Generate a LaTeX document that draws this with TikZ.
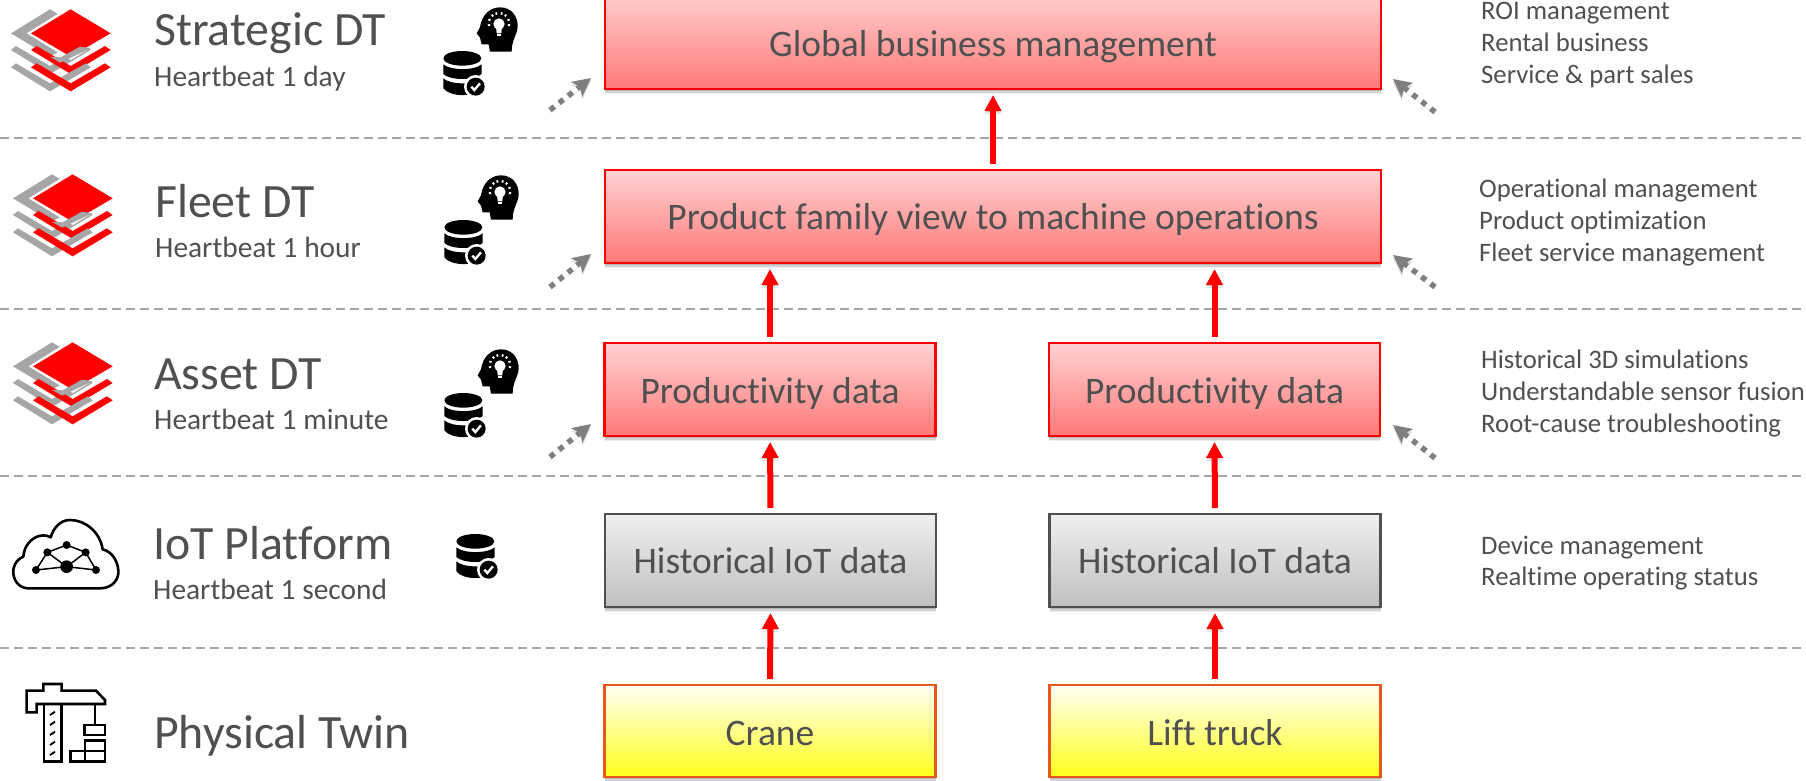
\documentclass[tikz,border=0pt]{standalone}
\usepackage{fontspec}
\setmainfont[Ligatures=NoCommon]{Carlito}
\usetikzlibrary{arrows.meta,shadows,calc}
\definecolor{txt}{HTML}{505050}
\definecolor{redtop}{HTML}{FFD2D2}
\definecolor{redbot}{HTML}{FF7878}
\definecolor{dash}{HTML}{A6A6A6}
\definecolor{dotgray}{HTML}{7F7F7F}
\definecolor{layergray}{HTML}{A6A6A6}
\definecolor{orangeline}{HTML}{E8581C}
\tikzset{
  softbox/.style={drop shadow={shadow xshift=0pt,shadow yshift=-5pt,opacity=.07,fill=black},
                  drop shadow={shadow xshift=0pt,shadow yshift=-3.5pt,opacity=.10,fill=black},
                  drop shadow={shadow xshift=0pt,shadow yshift=-2pt,opacity=.14,fill=black}},
  boxbase/.style={softbox,draw,line width=2.2pt,inner sep=0pt,outer sep=0pt,text=txt,
        font=\fontsize{37.5}{37.5}\selectfont,text height=25pt,text depth=0pt,align=center},
  redbox/.style={boxbase,draw=red,top color=redtop,bottom color=redbot},
  graybox/.style={boxbase,draw=txt,top color=black!6,bottom color=black!25},
  yellowbox/.style={boxbase,draw=orangeline,top color=yellow!3,middle color=yellow!35,bottom color=yellow!90,text height=28pt},
  title/.style={anchor=base west,inner sep=0pt,text=txt,font=\fontsize{47.8}{47.8}\selectfont},
  subtitle/.style={anchor=base west,inner sep=0pt,text=txt,font=\fontsize{29.4}{29.4}\selectfont},
  note/.style={anchor=base west,inner sep=0pt,text=txt,font=\fontsize{26.7}{26.7}\selectfont},
  levelline/.style={draw=dash,line width=2pt,dash pattern=on 9pt off 5pt},
  flow/.style={draw=red,line width=6pt,-{Triangle[length=16pt,width=16pt]},shorten <=6pt,shorten >=6pt,
     preaction={draw=black,opacity=.10,transform canvas={yshift=-3pt}}},
  hint/.style={draw=dotgray,line width=5.5pt,dash pattern=on 5.5pt off 6pt,
     -{Stealth[length=18pt,width=18pt,inset=4pt]},
     preaction={draw=black,opacity=.12,transform canvas={yshift=-3pt}}},
}
% all icons are drawn in 3x crop units: x=1/3, y=-1/3
\newcommand{\stackicon}[2]{%
 \begin{scope}[shift={(#1,#2)},x=.3333pt,y=-.3333pt]
  \fill[layergray] (33,100)--(150,28)--(272,100)--(150,170)--cycle;
  \foreach \d in {0,52}{
   \fill[layergray] (33,150+\d)--(48,138+\d)--(150,198+\d)--(258,138+\d)--(272,150+\d)--(150,222+\d)--cycle;
   \fill[red] (93,150+\d)--(110,138+\d)--(212,198+\d)--(315,138+\d)--(332,150+\d)--(212,222+\d)--cycle;
  }
  \fill[white] (80,100)--(212,18)--(345,100)--(212,180)--cycle;
  \fill[red] (93,100)--(212,28)--(332,100)--(212,170)--cycle;
  \fill[layergray] (150,170)--(180,188)--(272,145)--(240,140)--(182,172)--cycle;
 \end{scope}}
\newcommand{\dbicon}[2]{%
 \begin{scope}[shift={(#1,#2)},x=.3333pt,y=-.3333pt]
  \fill[black] (97,175) ellipse [x radius=57,y radius=22];
  \fill[black] (40,193) .. controls (60,212) and (135,212) .. (155,193) -- (155,222) .. controls (135,242) and (60,242) .. (40,222) -- cycle;
  \fill[black] (40,235) .. controls (60,255) and (135,255) .. (155,235) -- (155,265) .. controls (135,292) and (60,292) .. (40,265) -- cycle;
  \fill[white] (137,260) circle [radius=35];
  \fill[black] (137,260) circle [radius=27];
  \draw[white,line width=2.4pt] (124,260)--(133,270)--(150,250);
 \end{scope}}
\newcommand{\headicon}[2]{%
 \begin{scope}[shift={(#1,#2)},x=.3333pt,y=-.3333pt]
  \fill[black] (140,100) -- (150,82) .. controls (155,45) and (180,22) .. (210,22)
     .. controls (245,22) and (264,50) .. (263,80) .. controls (262,105) and (245,118) .. (245,155)
     -- (180,155) -- (176,133) -- (155,133) -- (150,113) -- cycle;
  \fill[white] (207,72) circle [radius=17];
  \fill[white] (198,80) -- (216,80) -- (214,100) -- (200,100) -- cycle;
  \draw[white,line width=1.2pt] (200,105)--(214,105);
  \foreach \a in {10,-20,-50,-75,-105,-130,-160,-190}
    \draw[white,line width=1.8pt] ($(207,70)+(\a:27)$)--($(207,70)+(\a:34)$);
 \end{scope}}
\begin{document}
\begin{tikzpicture}[x=1pt,y=-1pt]
\useasboundingbox (0,0) rectangle (1806,780);
\fill[white] (0,0) rectangle (1806,780);

% level separators
\foreach \n/\y in {a/138,b/309,c/476,d/648}{
  \coordinate (l\n) at (0,\y);
  \coordinate (r\n) at (1806,\y);
  \draw[levelline] (l\n) -- (r\n);
}

% boxes
\node[redbox,minimum width=776pt,minimum height=99pt,text height=33.5pt] (global) at (993,39.5) {Global business management};
\node[redbox,minimum width=776pt,minimum height=93pt] (fleet) at (993,216.5) {Product family view to machine operations};
\node[redbox,minimum width=331pt,minimum height=93pt,text height=27pt] (prodL) at (770,389.5) {Productivity data};
\node[redbox,minimum width=331pt,minimum height=93pt,text height=27pt] (prodR) at (1214.5,389.5) {Productivity data};
\node[graybox,minimum width=331pt,minimum height=93pt] (histL) at (770.5,560.5) {Historical IoT data};
\node[graybox,minimum width=331pt,minimum height=93pt] (histR) at (1215,560.5) {Historical IoT data};
\node[yellowbox,minimum width=331pt,minimum height=92pt] (crane) at (770,731) {Crane};
\node[yellowbox,minimum width=331pt,minimum height=92pt] (truck) at (1215,731) {Lift truck};

% red flows
\draw[flow] (fleet.north) -- (global.south);
\draw[flow] (prodL.north) -- (fleet.south -| prodL.north);
\draw[flow] (prodR.north) -- (fleet.south -| prodR.north);
\draw[flow] (histL.north) -- (prodL.south);
\draw[flow] (histR.north) -- (prodR.south);
\draw[flow] (crane.north) -- (histL.south);
\draw[flow] (truck.north) -- (histR.south);

% grey dotted hints
\foreach \n/\ya/\yb/\yc/\yd in {1/110/78/112/79,2/287/254/287/255,3/457/424/458/425}{
  \coordinate (hla\n) at (550,\ya);
  \coordinate (hlb\n) at (591,\yb);
  \coordinate (hra\n) at (1435,\yc);
  \coordinate (hrb\n) at (1393,\yd);
  \draw[hint] (hla\n) -- (hlb\n);
  \draw[hint] (hra\n) -- (hrb\n);
}

% left labels
\node[title] (t1) at (154,45) {Strategic DT};
\node[subtitle] (s1) at (154,86) {Heartbeat 1 day};
\node[title] (t2) at (155,217) {Fleet DT};
\node[subtitle] (s2) at (155,257) {Heartbeat 1 hour};
\node[title] (t3) at (154,389) {Asset DT};
\node[subtitle] (s3) at (154,429) {Heartbeat 1 minute};
\node[title] (t4) at (153,559) {IoT Platform};
\node[subtitle] (s4) at (153,599) {Heartbeat 1 second};
\node[title] (t5) at (154,748) {Physical Twin};

% right notes
\node[note] (n11) at (1481,19) {ROI management};
\node[note] (n12) at (1481,51) {Rental business};
\node[note] (n13) at (1481,83) {Service \& part sales};
\node[note] (n21) at (1479,197) {Operational management};
\node[note] (n22) at (1479,229) {Product optimization};
\node[note] (n23) at (1479,261) {Fleet service management};
\node[note] (n31) at (1481,368) {Historical 3D simulations};
\node[note] (n32) at (1481,400) {Understandable sensor fusion};
\node[note] (n33) at (1481,432) {Root-cause troubleshooting};
\node[note] (n41) at (1481,554) {Device management};
\node[note] (n42) at (1481,585) {Realtime operating status};

% icons
\stackicon{0}{0}
\stackicon{2}{165}
\stackicon{2}{333}
\headicon{430}{0}
\dbicon{430}{0}
\headicon{431}{168}
\dbicon{431}{169}
\headicon{431}{342}
\dbicon{431}{342}
\dbicon{443}{483}

% cloud
\begin{scope}[shift={(0,510)},x=.3333pt,y=-.3333pt]
  \draw[black,line width=2.6pt,line join=round]
    (85,235) -- (300,235) .. controls (340,235) and (358,205) .. (355,180)
    .. controls (352,150) and (335,125) .. (308,118) .. controls (300,65) and (255,30) .. (210,30)
    .. controls (180,30) and (160,55) .. (152,82) .. controls (125,65) and (75,85) .. (70,140)
    .. controls (45,150) and (38,175) .. (40,190) .. controls (42,215) and (60,235) .. (85,235) -- cycle;
  \draw[black,line width=1.5pt] (108,180)--(200,170)--(288,180)--(257,127)--(200,105)--(142,127)--(108,180);
  \draw[black,line width=1.5pt] (142,127)--(200,170)--(257,127);
  \foreach \p in {(108,180),(142,127),(200,105),(257,127),(288,180)}
    \fill[black] \p circle [radius=12];
  \fill[black] (200,170) circle [radius=19];
\end{scope}

% crane
\begin{scope}[shift={(10,670)},x=.3333pt,y=-.3333pt]
  \draw[black,line width=2.6pt,miter limit=4]
    (50,62)--(100,62)--(100,42)--(155,42)--(155,62)--(258,62)--(285,90)--(285,102)--(80,102)--(80,127)--(50,127)--cycle;
  \draw[black,line width=2.6pt] (102,102) rectangle (155,275);
  \foreach \y in {130,160,190,220,250}
    \draw[black,line width=1.8pt] (120,\y+5)--(135,\y-5);
  \draw[black,line width=2.2pt] (255,102)--(255,165);
  \draw[black,line width=2.6pt] (223,165) rectangle (285,195);
  \draw[black,line width=2.6pt] (225,243)--(225,212)--(285,212)--(285,275)--(182,275)--(182,243)--cycle;
  \draw[black,line width=2.2pt] (225,243)--(285,243) (225,243)--(225,275);
\end{scope}
\end{tikzpicture}
\end{document}
